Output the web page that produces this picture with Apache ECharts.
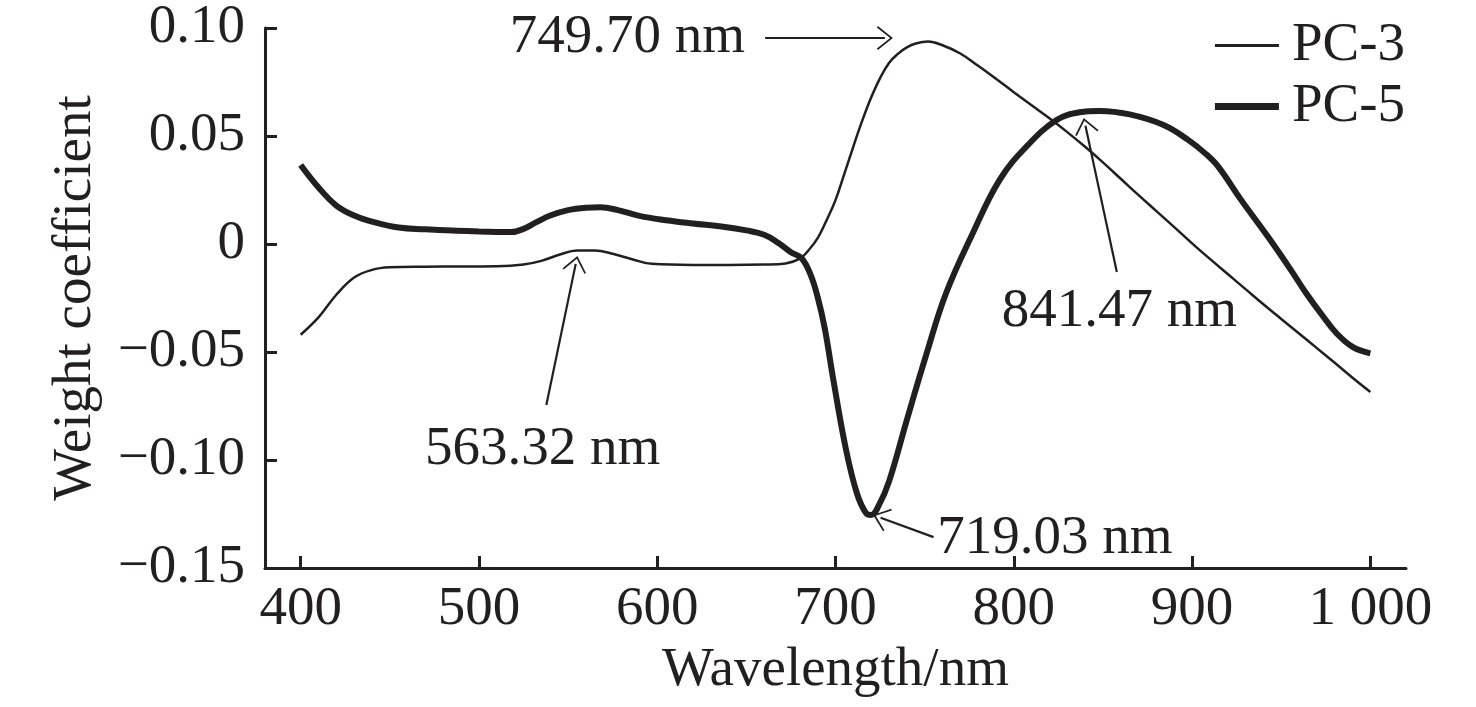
<!DOCTYPE html>
<html>
<head>
<meta charset="utf-8">
<title>PC-3 / PC-5 weight coefficient</title>
<script src="https://cdn.jsdelivr.net/npm/echarts@6.0.0/dist/echarts.min.js"></script>
<style>
  html, body { margin: 0; padding: 0; background: #fff; }
  #chart { width: 1476px; height: 707px; }
</style>
</head>
<body>
<div id="chart"></div>
<script>
// values (wavelength in nm, weight coefficient)
const wavePC3 = [400, 410, 420, 430, 440, 450, 470, 490, 510, 525, 535, 545, 555, 565, 575, 585, 597,
  620, 640, 660, 672, 680, 685, 690, 695, 700, 705, 710, 715, 720, 725, 730, 735, 740, 745, 752, 760,
  770, 780, 790, 800, 810, 820, 830, 840, 850, 860, 870, 880, 890, 900, 910, 920, 930, 940, 950, 960,
  970, 980, 990, 1000];
const valuesPC3 = [-0.042, -0.034, -0.0235, -0.0155, -0.012, -0.0108, -0.0105, -0.0104, -0.0103, -0.0095,
  -0.0078, -0.005, -0.003, -0.003, -0.0045, -0.0068, -0.0092, -0.0097, -0.0097, -0.0095, -0.009, -0.0068,
  -0.0028, 0.0027, 0.011, 0.0203, 0.0326, 0.0451, 0.0571, 0.0678, 0.0768, 0.0838, 0.088, 0.091, 0.0928,
  0.0937, 0.092, 0.0882, 0.0825, 0.0765, 0.0703, 0.0642, 0.0582, 0.0518, 0.045, 0.0378, 0.0302, 0.0226,
  0.0152, 0.0078, 0.0003, -0.0069, -0.0139, -0.0209, -0.0279, -0.0347, -0.0414, -0.0482, -0.055, -0.0619,
  -0.0685];

const wavePC5 = [400, 410, 420, 430, 440, 455, 470, 485, 500, 510, 518, 525, 532, 540, 550, 560, 568,
  578, 590, 605, 620, 637, 650, 660, 668, 675, 681, 686, 690, 694, 699, 706, 712, 717, 720, 724, 730,
  740, 751, 762, 777, 792, 807, 824, 837, 848, 865, 884, 898, 908, 915, 927, 942, 955,
  964, 973, 981, 990, 1000];
const valuesPC5 = [0.0366, 0.0262, 0.0178, 0.0132, 0.0104, 0.0076, 0.0068, 0.0062, 0.0058, 0.0056, 0.0055,
  0.007, 0.010, 0.0132, 0.0157, 0.0168, 0.017, 0.0157, 0.013, 0.011, 0.0095, 0.008, 0.0063, 0.0043,
  0.0005, -0.0038, -0.0066, -0.0142, -0.0246, -0.0392, -0.0639, -0.0956, -0.1154, -0.1245, -0.1255,
  -0.1215, -0.110, -0.0815, -0.051, -0.0228, 0.005, 0.0296, 0.045, 0.0574, 0.061, 0.0616, 0.060,
  0.0551, 0.0481, 0.0415, 0.0355, 0.021, 0.004, -0.0115, -0.0228, -0.033,
  -0.0413, -0.0476, -0.0506];

const xTicks = [400, 500, 600, 700, 800, 900, 1000];
const yTicks = [-0.15, -0.10, -0.05, 0, 0.05, 0.10];

// annotation arrows: text, tail point, head point (data coords)
const annoLabels = ['749.70 nm', '563.32 nm', '719.03 nm', '841.47 nm'];
const annoFrom = [[660.5, 0.0954], [537.8, -0.0745], [755, -0.1357], [857.8, -0.013]];
const annoTo = [[727.7, 0.0954], [554.3, -0.0092], [725.3, -0.1267], [840.2, 0.0547]];

const ink = '#231f20';
const font = 'Liberation Serif, Times New Roman, serif';
const fs = 55;
const chevron = 'path://M50,0 L100,60 L94,64 L50,11 L6,64 L0,60 Z';
// legend swatches: a bar inside a 64x20 box (corner points fix the box)
const iconThin = 'path://M0,0 L0,0 M0,8.6 L64,8.6 L64,11.4 L0,11.4 Z M64,20 L64,20';
const iconThick = 'path://M0,0 L0,0 M0,6.5 L64,6.5 L64,13.5 L0,13.5 Z M64,20 L64,20';

const labelPlace = [
  { align: 'right', verticalAlign: 'middle', distance: 20 },
  { align: 'center', verticalAlign: 'top', distance: 18 },
  { align: 'left', verticalAlign: 'middle', distance: 4 },
  { align: 'center', verticalAlign: 'top', distance: 12 }
];

const annoLines = annoLabels.map((txt, i) => [
  {
    coord: annoFrom[i],
    label: {
      show: true,
      position: 'start',
      formatter: txt,
      color: ink,
      fontFamily: font,
      fontSize: fs,
      align: labelPlace[i].align,
      verticalAlign: labelPlace[i].verticalAlign,
      distance: labelPlace[i].distance
    }
  },
  { coord: annoTo[i] }
]);

const fmtY = v => {
  if (Math.abs(v) < 1e-9) return '0';
  return v.toFixed(2).replace('-', '\u2212');
};
const fmtX = v => (v >= 1000 ? String(v).replace(/(\d)(\d{3})$/, '$1 $2') : String(v));

const chart = echarts.init(document.getElementById('chart'));
chart.setOption({
  animation: false,
  backgroundColor: '#fff',
  grid: { left: 265, right: 70, top: 28, bottom: 139, containLabel: false, outerBoundsMode: 'none' },
  legend: {
    data: [
      { name: 'PC-3', icon: iconThin },
      { name: 'PC-5', icon: iconThick }
    ],
    orient: 'vertical',
    right: 66,
    top: 13,
    itemWidth: 64,
    itemHeight: 20,
    itemGap: 6,
    itemStyle: { color: ink, borderWidth: 0 },
    textStyle: { color: ink, fontFamily: font, fontSize: fs, padding: [0, 0, 0, 8] }
  },
  xAxis: {
    type: 'value',
    min: 380,
    max: 1020,
    name: 'Wavelength/nm',
    nameLocation: 'middle',
    nameGap: 75,
    nameTextStyle: { color: ink, fontFamily: font, fontSize: fs },
    axisLine: { onZero: false, lineStyle: { color: ink, width: 3 } },
    axisTick: { inside: true, length: 12, lineStyle: { color: ink, width: 3 }, customValues: xTicks },
    axisLabel: { color: ink, fontFamily: font, fontSize: fs, margin: 14, customValues: xTicks, formatter: fmtX },
    splitLine: { show: false }
  },
  yAxis: {
    type: 'value',
    min: -0.15,
    max: 0.10,
    name: 'Weight coefficient',
    nameLocation: 'middle',
    nameGap: 162,
    nameTextStyle: { color: ink, fontFamily: font, fontSize: fs },
    axisLine: { lineStyle: { color: ink, width: 3 } },
    axisTick: { inside: true, length: 12, lineStyle: { color: ink, width: 3 }, customValues: yTicks },
    axisLabel: { color: ink, fontFamily: font, fontSize: fs, margin: 20, customValues: yTicks, formatter: fmtY },
    splitLine: { show: false }
  },
  series: [
    {
      name: 'PC-3',
      type: 'line',
      data: wavePC3.map((w, i) => [w, valuesPC3[i]]),
      smooth: 0.4,
      symbol: 'none',
      lineStyle: { color: ink, width: 2.5 },
      itemStyle: { color: ink },
      markLine: {
        silent: true,
        animation: false,
        symbol: ['none', chevron],
        symbolSize: [24, 16],
        lineStyle: { color: ink, width: 2.2, type: 'solid' },
        itemStyle: { color: ink },
        emphasis: { disabled: true },
        data: annoLines
      }
    },
    {
      name: 'PC-5',
      type: 'line',
      data: wavePC5.map((w, i) => [w, valuesPC5[i]]),
      smooth: 0.4,
      symbol: 'none',
      lineStyle: { color: ink, width: 6 },
      itemStyle: { color: ink }
    }
  ]
});
</script>
</body>
</html>
